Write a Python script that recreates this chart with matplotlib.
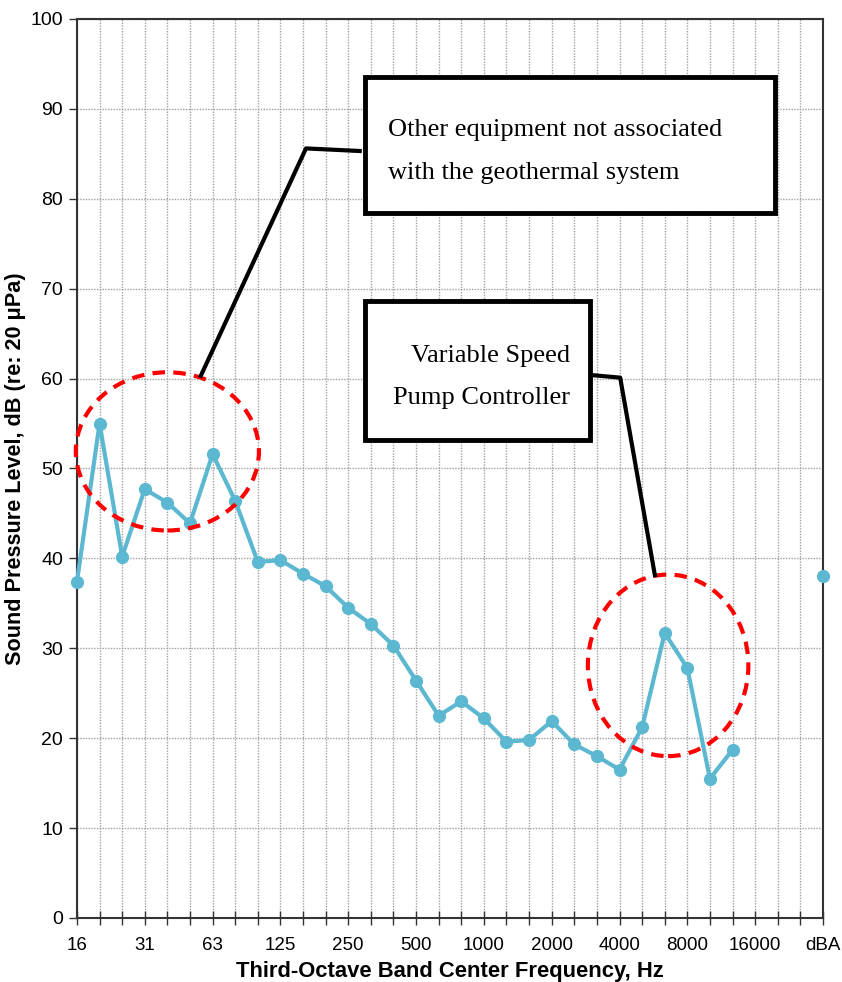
import matplotlib
matplotlib.use("Agg")
import matplotlib.pyplot as plt
from matplotlib.patches import Ellipse, Rectangle

bands = ["16", "20", "25", "31.5", "40", "50", "63", "80", "100", "125", "160", "200",
         "250", "315", "400", "500", "630", "800", "1000", "1250", "1600", "2000",
         "2500", "3150", "4000", "5000", "6300", "8000", "10000", "12500"]
spl = [37.4, 55.0, 40.2, 47.7, 46.2, 43.9, 51.6, 46.4, 39.6, 39.8, 38.3, 36.9,
       34.5, 32.7, 30.3, 26.4, 22.5, 24.1, 22.2, 19.6, 19.8, 21.9,
       19.3, 18.0, 16.5, 21.2, 31.7, 27.8, 15.5, 18.7]
dba_value = 38.0
tick_labels = ["16", "31", "63", "125", "250", "500", "1000", "2000", "4000",
               "8000", "16000", "dBA"]
note1 = "Other equipment not associated\nwith the geothermal system"
note2 = "Variable Speed\nPump Controller"

plt.rcParams['font.family'] = ['Liberation Sans', 'DejaVu Sans']

fig = plt.figure(figsize=(8.42, 9.82), dpi=100)
ax = fig.add_axes([0.0914, 0.0652, 0.9774 - 0.0914, 0.9807 - 0.0652])

n_pos = 34
ax.set_xlim(0, n_pos - 1)
ax.set_ylim(0, 100)

color = "#5BB8D0"
xs = list(range(len(spl)))
ax.plot(xs, spl, color=color, lw=3, marker="o", ms=8.5, zorder=5, clip_on=False)
ax.plot([n_pos - 1], [dba_value], color=color, marker="o", ms=8.5, zorder=5,
        clip_on=False, ls="none")

ax.set_xticks(range(n_pos))
lab = [""] * n_pos
for i, t in enumerate(tick_labels):
    lab[i * 3] = t
ax.set_xticklabels(lab, fontsize=13.5)
ax.tick_params(axis="x", direction="inout", length=10, width=1, pad=9, colors="#333333",
               labelcolor="black")
ax.set_yticks(range(0, 101, 10))
ax.tick_params(axis="y", direction="out", length=6, width=1, labelsize=14, pad=4,
               colors="#333333", labelcolor="black")

ax.grid(True, which="major", color="#a0a0a0", ls=(0, (1, 1)), lw=1)
ax.set_axisbelow(True)
for s in ax.spines.values():
    s.set_color("#333333")
    s.set_linewidth(1.5)

ax.set_xlabel("Third-Octave Band Center Frequency, Hz", fontsize=15.8, fontweight="bold",
              labelpad=5)
ax.set_ylabel("Sound Pressure Level, dB (re: 20 μPa)", fontsize=15.6, fontweight="bold",
              labelpad=3)

# ellipses
ax.add_patch(Ellipse((4.0, 51.9), 8.1, 17.6, fill=False, ec="red", lw=3,
                     ls=(0, (3, 2)), zorder=6, clip_on=False))
ax.add_patch(Ellipse((26.15, 28.1), 7.1, 20.2, fill=False, ec="red", lw=3,
                     ls=(0, (3, 2)), zorder=6, clip_on=False))

# leader lines
ax.plot([5.44, 10.13, 12.6], [60.1, 85.6, 85.3], color="black", lw=3, zorder=7,
        solid_capstyle="butt")
ax.plot([22.7, 24.03, 25.58], [60.4, 60.1, 37.9], color="black", lw=3, zorder=7,
        solid_capstyle="butt")

# boxes
ax.add_patch(Rectangle((12.74, 78.4), 30.88 - 12.74, 93.5 - 78.4, fc="white",
                       ec="black", lw=3.5, zorder=8))
ax.add_patch(Rectangle((12.74, 53.2), 22.7 - 12.74, 68.6 - 53.2, fc="white",
                       ec="black", lw=3.5, zorder=8))
ax.text(13.75, 85.25, note1, fontsize=19, family=["Liberation Serif"], va="center",
        ha="left", linespacing=2.2, zorder=9)
ax.text(21.8, 60.2, note2, fontsize=19, family=["Liberation Serif"], va="center",
        ha="right", linespacing=2.2, zorder=9)

fig.savefig("out.png", dpi=100)
